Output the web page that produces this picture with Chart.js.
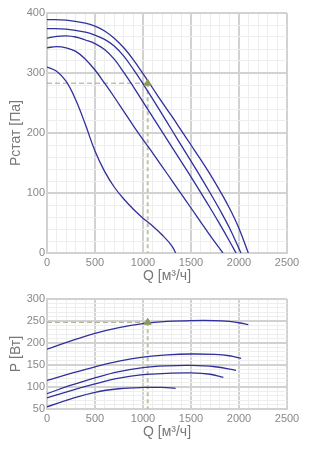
<!DOCTYPE html>
<html>
<head>
<meta charset="utf-8">
<script src="https://cdn.jsdelivr.net/npm/chart.js@4"></script>
<style>
  html, body { margin:0; padding:0; background:#fff; }
  #wrap { position:relative; width:322px; height:450px; }
  canvas { position:absolute; left:0; }
  #c-pres { top:0; }
  #c-pow { top:290px; }
</style>
</head>
<body>
<div id="wrap">
  <canvas id="c-pres" width="322" height="290"></canvas>
  <canvas id="c-pow" width="322" height="160"></canvas>
</div>
<script>
// Давление (Pстат) по кривым, Q в м³/ч
const presQ1 = [0,200,400,500,600,700,800,900,1000,1100,1200,1300,1400,1500,1600,1700,1800,1900,2000,2097];
const presP1 = [389,388,383,378,370,358,342,322,299,275,251,228,204,180,156,131,104,75,41,0];
const presQ2 = [0,200,400,500,600,700,800,900,1000,1100,1200,1300,1400,1500,1600,1700,1800,1900,2021];
const presP2 = [374,373,368,363,356,345,328,306,282,257,231,205,179,153,127,100,72,42,0];
const presQ3 = [0,100,200,300,400,500,600,700,800,900,1000,1100,1200,1300,1400,1500,1600,1700,1800,1900,1969];
const presP3 = [358,361,362,360,355,349,339,323,301,277,252,227,202,177,152,127,101,75,48,20,0];
const presQ4 = [0,100,200,300,400,500,600,700,800,900,1000,1100,1200,1300,1400,1500,1600,1700,1833];
const presP4 = [342,344,342,336,323,305,283,260,236,212,189,167,144,121,98,75,52,29,0];
const presQ5 = [0,100,200,300,400,500,600,700,800,900,1000,1100,1200,1300,1340];
const presP5 = [310,303,286,255,214,170,136,110,90,73,58,45,30,12,0];

// Мощность (P, Вт)
const powQ1 = [0,250,500,750,1000,1250,1500,1750,1900,2000,2097];
const powP1 = [186,205,222,235,244,249,251,251,249,246,242];
const powQ2 = [0,250,500,750,1000,1250,1500,1750,1900,2022];
const powP2 = [115,131,146,159,168,173,175,174,171,165];
const powQ3 = [0,250,500,750,1000,1250,1500,1750,1969];
const powP3 = [85,104,121,135,144,148,149,146,138];
const powQ4 = [0,250,500,750,1000,1250,1500,1700,1837];
const powP4 = [75,92,107,120,128,131,132,129,122];
const powQ5 = [0,250,500,750,1000,1200,1340];
const powP5 = [55,73,88,96,99,99,97];

// Рабочая точка
const opQ = 1049;
const opPres = 283;
const opPow = 247;

const LINE = '#30309c';
const GRID_MAJOR = '#d2d2d2';
const GRID_MINOR = '#eeeeee';
const TXT = '#888';

Chart.defaults.font.family = "'Liberation Sans', Arial, sans-serif";

const pts = (qs, ps) => qs.map((q, i) => ({ x:q, y:ps[i] }));

function curve(qs, ps) {
  return { data:pts(qs, ps), borderColor:LINE, borderWidth:1.3, pointRadius:0,
           tension:0.4, fill:false, order:1 };
}

function guides(yVal, yBase) {
  return [
    { data:[{x:0,y:yVal},{x:opQ,y:yVal}], borderColor:'#a3a77f', borderWidth:1, borderDash:[5,3], pointRadius:0, order:2 },
    { data:[{x:opQ,y:yVal},{x:opQ,y:yBase}], borderColor:'#c0c3a2', borderWidth:2, borderDash:[4,3], pointRadius:0, order:2 },
    { data:[{x:opQ,y:yVal}], showLine:false, pointStyle:'triangle', pointRadius:4,
      backgroundColor:'#8c9a5b', borderColor:'#8c9a5b', order:0 },
  ];
}

function gridOpts(major) {
  return {
    color: c => (c.tick && c.tick.value % major === 0) ? GRID_MAJOR : GRID_MINOR,
    lineWidth: c => (c.tick && c.tick.value % major === 0) ? 2 : 1,
    drawTicks:false,
  };
}

function makeOpts(yMin, yMax, yStep, yMajor, yTitle, padTop, xHeight, xTitlePad) {
  return {
    responsive:false, animation:false, devicePixelRatio:1,
    layout:{ padding:{ top:padTop, right:35, left:0, bottom:0 } },
    plugins:{ legend:{ display:false }, tooltip:{ enabled:false } },
    scales:{
      x:{
        type:'linear', min:0, max:2500,
        grid:gridOpts(500),
        border:{ color:GRID_MAJOR, width:2 },
        ticks:{ stepSize:100, autoSkip:false, maxRotation:0, padding:3, color:TXT, font:{ size:11 },
                callback:v => v % 500 === 0 ? v : '' },
        title:{ display:true, text:'Q [м³/ч]', color:'#777', font:{ size:14 }, padding:{ top:0, bottom:xTitlePad } },
        afterFit:s => { s.height = xHeight; }
      },
      y:{
        min:yMin, max:yMax,
        grid:gridOpts(yMajor),
        border:{ color:GRID_MAJOR, width:2 },
        ticks:{ stepSize:yStep, autoSkip:false, padding:2, color:TXT, font:{ size:11 },
                callback:v => v % yMajor === 0 ? v : '' },
        title:{ display:true, text:yTitle, color:'#777', font:{ size:14 }, padding:{ top:8, bottom:0 } },
        afterFit:s => { s.width = 47; }
      }
    }
  };
}

new Chart(document.getElementById('c-pres'), {
  type:'line',
  data:{ datasets:[
    curve(presQ1, presP1), curve(presQ2, presP2), curve(presQ3, presP3),
    curve(presQ4, presP4), curve(presQ5, presP5),
    ...guides(opPres, 0)
  ]},
  options:makeOpts(0, 400, 20, 100, 'Pстат [Па]', 13, 37, 5)
});

new Chart(document.getElementById('c-pow'), {
  type:'line',
  data:{ datasets:[
    curve(powQ1, powP1), curve(powQ2, powP2), curve(powQ3, powP3),
    curve(powQ4, powP4), curve(powQ5, powP5),
    ...guides(opPow, 50)
  ]},
  options:makeOpts(50, 300, 10, 50, 'P [Вт]', 9, 41, 9)
});
</script>
</body>
</html>
